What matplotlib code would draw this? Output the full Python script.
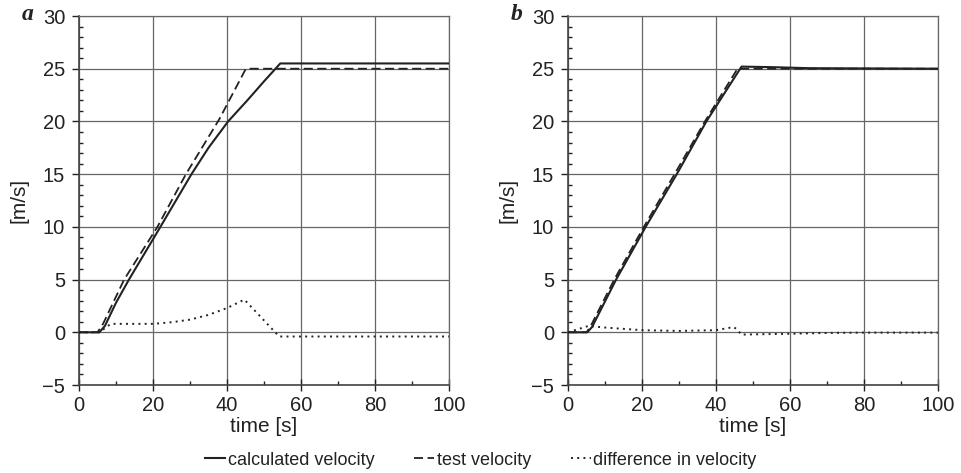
import numpy as np
import matplotlib
matplotlib.use("Agg")
import matplotlib.pyplot as plt
from matplotlib.lines import Line2D

plt.rcParams['font.family'] = ['Liberation Sans', 'DejaVu Sans']

# --- panel a data ---
a_calc_t = [0, 5.5, 7, 10, 13.5, 22, 30.4, 35, 40.3, 45.5, 50, 54.4, 100]
a_calc_v = [0, 0, 0.6, 2.8, 5.0, 10.0, 15.0, 17.5, 20.0, 22.0, 23.8, 25.5, 25.5]
a_test_t = [0, 5, 6.5, 12.2, 21.2, 28.9, 37.9, 41.5, 45.1, 100]
a_test_v = [0, 0, 0.8, 5.0, 10.0, 15.0, 20.2, 22.6, 25.0, 25.0]
a_diff_t = [0, 5.5, 8.6, 20, 25, 30, 35, 40, 44.7, 54.1, 100]
a_diff_v = [0, 0, 0.8, 0.8, 0.95, 1.2, 1.65, 2.3, 3.1, -0.4, -0.4]

# --- panel b data ---
b_calc_t = [0, 5.2, 6.5, 13, 21, 29.4, 37.4, 46.9, 55, 65, 100]
b_calc_v = [0, 0, 0.5, 5.0, 10.0, 15.0, 20.0, 25.2, 25.15, 25.05, 25.0]
b_test_t = [0, 5, 6, 12.5, 20.5, 28.8, 37, 45.8, 100]
b_test_v = [0, 0, 0.5, 5.0, 10.0, 15.0, 20.0, 25.0, 25.0]
b_diff_t = [0, 5.5, 10, 20, 30, 40, 44.8, 45.9, 46.8, 60.8, 70.7, 80, 100]
b_diff_v = [0, 0.6, 0.45, 0.2, 0.13, 0.2, 0.5, 0.2, -0.22, -0.13, -0.06, -0.03, -0.03]

panels = [
    ('a', a_calc_t, a_calc_v, a_test_t, a_test_v, a_diff_t, a_diff_v),
    ('b', b_calc_t, b_calc_v, b_test_t, b_test_v, b_diff_t, b_diff_v),
]

ink = '#222222'
gridc = '#666666'

fig = plt.figure(figsize=(9.62, 4.73), dpi=100)
lefts = [79 / 962, 568 / 962]
for (lab, ct, cv, tt, tv, dt, dv), left in zip(panels, lefts):
    ax = fig.add_axes([left, 88 / 473, 370 / 962, 369 / 473])
    ax.plot(ct, cv, color=ink, lw=1.5, zorder=4)
    ax.plot(tt, tv, color=ink, lw=1.3, dashes=(5, 2.5), zorder=4)
    ax.plot(dt, dv, color=ink, lw=1.4, linestyle=(0, (1, 2.2)), zorder=4)
    ax.set_xlim(0, 100)
    ax.set_ylim(-5, 30)
    ax.set_xticks(np.arange(0, 101, 20))
    ax.set_xticks(np.arange(10, 100, 20), minor=True)
    ax.set_yticks(np.arange(-5, 31, 5))
    ax.set_yticks(np.arange(-5, 31, 1), minor=True)
    ax.grid(True, which='major', color=gridc, lw=0.9)
    ax.tick_params(which='major', direction='out', length=5, width=1, colors=ink,
                   labelsize=14.5, pad=5)
    ax.tick_params(which='minor', direction='in', length=3, width=1, colors=ink)
    ax.tick_params(axis='x', which='major', direction='inout', length=8, pad=4)
    for s in ['top', 'right']:
        ax.spines[s].set_color(gridc)
        ax.spines[s].set_linewidth(0.9)
    for s in ['left', 'bottom']:
        ax.spines[s].set_color('#444444')
        ax.spines[s].set_linewidth(1.2)
    ax.set_xlabel('time [s]', fontsize=15, color=ink, labelpad=1)
    ax.set_ylabel('[m/s]', fontsize=15, color=ink, labelpad=10)
    fig.text(left - 57 / 962, 1 - 14 / 473, lab, fontsize=17, fontweight='bold',
             fontstyle='italic', family='Liberation Serif', color=ink, va='center')

handles = [
    Line2D([], [], color=ink, lw=1.5),
    Line2D([], [], color=ink, lw=1.3, dashes=(5, 2.5)),
    Line2D([], [], color=ink, lw=1.4, linestyle=(0, (1, 2.2))),
]
labels = ['calculated velocity', 'test velocity', 'difference in velocity']
fig.legend(handles, labels, loc='center', bbox_to_anchor=(0.5, 13 / 473), ncol=3,
           frameon=False, fontsize=13, handlelength=1.1, handletextpad=0.15,
           columnspacing=2.2, labelcolor=ink)

fig.savefig('out.png', dpi=100)
